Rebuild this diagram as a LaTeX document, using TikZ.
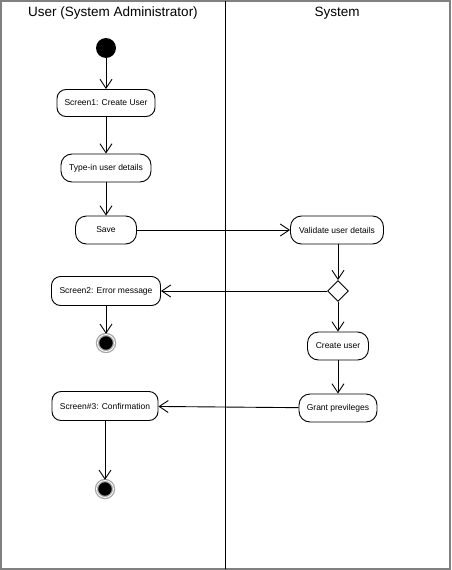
\documentclass[tikz,border=0pt]{standalone}
\usepackage{fontspec}
\setmainfont{Liberation Sans}
\usetikzlibrary{arrows.meta,shapes.geometric}
\begin{document}
\begin{tikzpicture}[x=1pt,y=-1pt,
  act/.style={draw,line width=0.9pt,rounded corners=11pt,minimum height=28pt,inner sep=2pt,font=\fontsize{8.5}{10}\selectfont,anchor=center},
  flow/.style={draw,line width=0.9pt,-{Straight Barb[length=9pt,width=12pt,line width=0.9pt]}},
  startnode/.style={circle,fill=black,minimum size=20pt,inner sep=0pt},
  endnode/.style={circle,fill=black,draw=gray!70,line width=1.3pt,double=white,double distance=0.8pt,minimum size=17pt,inner sep=0pt},
  decision/.style={diamond,draw,line width=0.9pt,minimum width=21pt,minimum height=21pt,inner sep=0pt},
  lane/.style={font=\fontsize{13.5}{16}\selectfont}]
\useasboundingbox (0,0) rectangle (451,570);
\draw[gray,line width=1.5pt] (1,1) rectangle (450,569);
\draw[line width=0.9pt] (225,1) -- (225,569);
\node[lane] (h1) at (113,13) {User (System Administrator)};
\node[lane] (h2) at (337,13) {System};
\node[startnode] (start) at (106,48) {};
\node[act,minimum width=98pt,rounded corners=9pt,minimum height=27pt] (s1) at (106,103) {Screen1: Create User};
\node[act,minimum width=90pt] (type) at (106,168) {Type-in user details};
\node[act,minimum width=61pt] (save) at (106,230) {Save};
\node[act,minimum width=93pt] (val) at (337,230) {Validate user details};
\node[decision] (dec) at (338,291) {};
\node[act,minimum width=109pt,rounded corners=9pt,minimum height=29pt] (s2) at (106,291) {Screen2: Error message};
\node[endnode] (e1) at (106,343) {};
\node[act,minimum width=61pt] (cu) at (338,346) {Create user};
\node[act,minimum width=78pt] (gp) at (338,408) {Grant previleges};
\node[act,minimum width=106pt,rounded corners=9pt,minimum height=29pt] (s3) at (105,406) {Screen\#3: Confirmation};
\node[endnode] (e2) at (105,489) {};
\draw[flow] (start) -- (s1);
\draw[flow] (s1) -- (type);
\draw[flow] (type) -- (save);
\draw[flow] (save) -- (val);
\draw[flow] (val.south -| dec) -- (dec);
\draw[flow] (dec) -- (s2);
\draw[flow] (s2) -- (e1);
\draw[flow] (dec) -- (cu);
\draw[flow] (cu) -- (gp);
\draw[flow] (gp) -- (s3);
\draw[flow] (s3) -- (e2);
\end{tikzpicture}
\end{document}
